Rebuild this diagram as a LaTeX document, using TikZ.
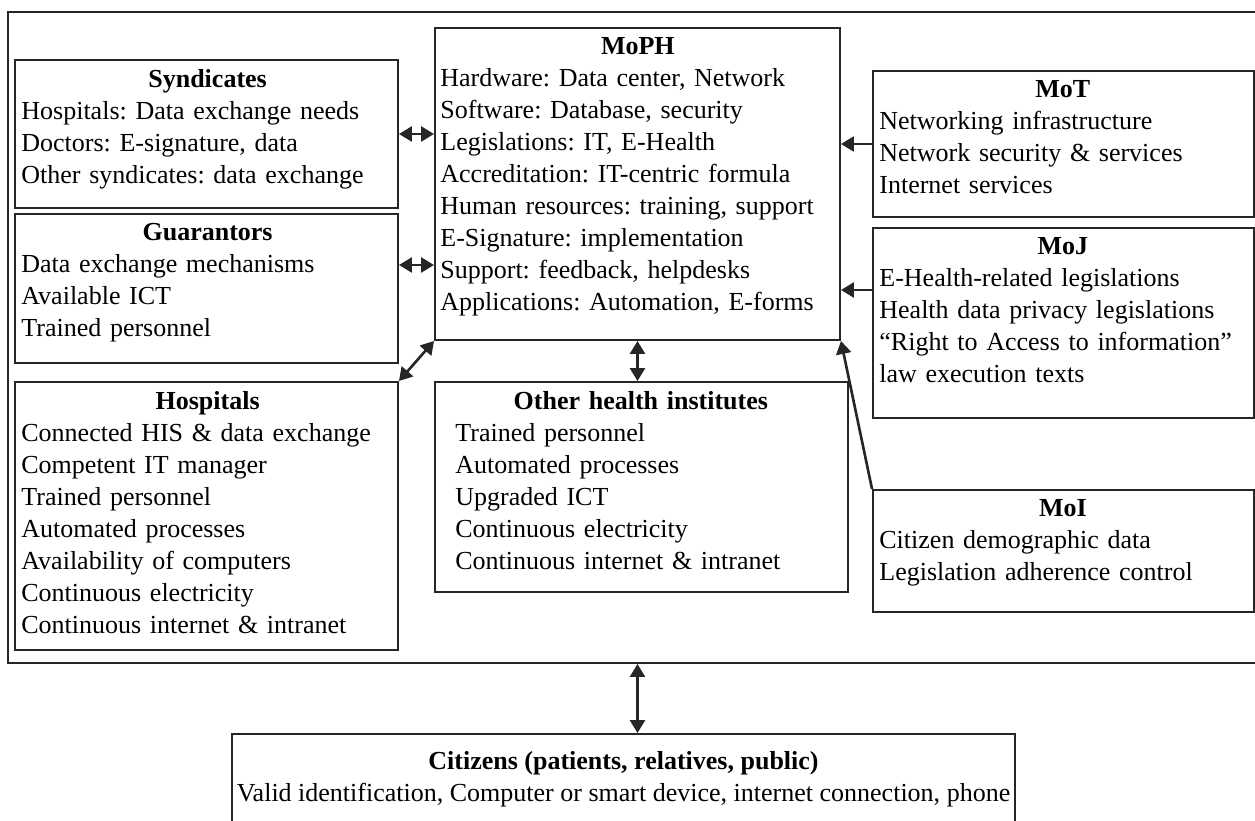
\documentclass[tikz,border=0pt]{standalone}
\usepackage{fontspec}
\setmainfont{Liberation Serif}
\usetikzlibrary{arrows.meta,fit}

\newcommand{\boxhead}[1]{\makebox[\hsize][c]{\textbf{#1}}}

\begin{document}
\begin{tikzpicture}[
    x=0.02cm, y=-0.02cm,
    every node/.style={font=\fontsize{14.8}{18.2}\selectfont\frenchspacing},
    box/.style={draw=black!85, line width=1.1pt, inner sep=0pt},
    txt/.style={inner sep=0pt, anchor=north west, align=left},
    link/.style={line width=1.5pt, black!85},
    >={Triangle[length=0.26cm, width=0.3cm]}
]
\useasboundingbox (0,0) rectangle (1255,821);

% outer frame and boxes
\node[box, fit={(8,12) (1262,663)}] (frame) {};
\node[box, fit={(15,60) (398,208)}] (syn) {};
\node[box, fit={(15,214) (398,363)}] (gua) {};
\node[box, fit={(15,382) (398,650)}] (hos) {};
\node[box, fit={(435,28) (840,340)}] (moph) {};
\node[box, fit={(435,382) (848,592)}] (oth) {};
\node[box, fit={(873,71) (1254,217)}] (mot) {};
\node[box, fit={(873,228) (1254,418)}] (moj) {};
\node[box, fit={(873,490) (1254,612)}] (moi) {};
\node[box, fit={(232,734) (1015,830)}] (cit) {};

% texts
\node[txt, text width=7.45cm] (syn-t) at ([shift={(7,10)}]syn.north west)
    {\boxhead{Syndicates}\\
     Hospitals: Data exchange needs\\
     Doctors: E-signature, data\\
     Other syndicates: data exchange};
\node[txt, text width=7.45cm] (gua-t) at ([shift={(7,10)}]gua.north west)
    {\boxhead{Guarantors}\\
     Data exchange mechanisms\\
     Available ICT\\
     Trained personnel};
\node[txt, text width=7.45cm] (hos-t) at ([shift={(7,10)}]hos.north west)
    {\boxhead{Hospitals}\\
     Connected HIS \& data exchange\\
     Competent IT manager\\
     Trained personnel\\
     Automated processes\\
     Availability of computers\\
     Continuous electricity\\
     Continuous internet \& intranet};
\node[txt, text width=7.9cm] (moph-t) at ([shift={(6,10)}]moph.north west)
    {\boxhead{MoPH}\\
     Hardware: Data center, Network\\
     Software: Database, security\\
     Legislations: IT, E-Health\\
     Accreditation: IT-centric formula\\
     Human resources: training, support\\
     E-Signature: implementation\\
     Support: feedback, helpdesks\\
     Applications: Automation, E-forms};
\node[txt, text width=7.42cm] (oth-t) at ([shift={(21,10)}]oth.north west)
    {\boxhead{Other health institutes}\\
     Trained personnel\\
     Automated processes\\
     Upgraded ICT\\
     Continuous electricity\\
     Continuous internet \& intranet};
\node[txt, text width=7.34cm] (mot-t) at ([shift={(7,10)}]mot.north west)
    {\boxhead{MoT}\\
     Networking infrastructure\\
     Network security \& services\\
     Internet services};
\node[txt, text width=7.34cm] (moj-t) at ([shift={(7,10)}]moj.north west)
    {\boxhead{MoJ}\\
     E-Health-related legislations\\
     Health data privacy legislations\\
     “Right to Access to information”\\
     law execution texts};
\node[txt, text width=7.34cm] (moi-t) at ([shift={(7,10)}]moi.north west)
    {\boxhead{MoI}\\
     Citizen demographic data\\
     Legislation adherence control};
\node[txt, anchor=north, align=center] (cit-t) at ([yshift=-0.36cm]cit.north)
    {\textbf{Citizens (patients, relatives, public)}\\
     Valid identification, Computer or smart device, internet connection, phone};

% links
\draw[link, <->] (syn.east) -- (syn.east -| moph.west);
\draw[link, <->] ([yshift=0.47cm]gua.east) -- ([yshift=0.47cm]gua.east -| moph.west);
\draw[link, <->] (hos.north east) -- (moph.south west);
\draw[link, <->] (moph.south) -- (moph.south |- oth.north);
\draw[link, ->] (mot.west) -- (mot.west -| moph.east);
\draw[link, ->] ([yshift=0.66cm]moj.west) -- ([yshift=0.66cm]moj.west -| moph.east);
\draw[link, ->] (moi.north west) -- (moph.south east);
\draw[link, <->] (moph.south |- frame.south) -- (moph.south |- cit.north);
\end{tikzpicture}
\end{document}
